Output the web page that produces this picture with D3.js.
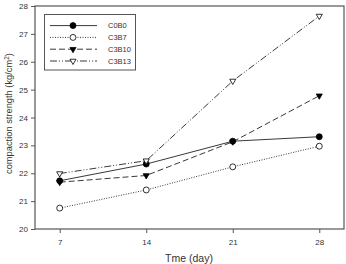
<!DOCTYPE html>
<html>
<head>
<meta charset="utf-8">
<script src="https://cdn.jsdelivr.net/npm/d3@7"></script>
<style>
  body { margin: 0; background: #fff; }
  text { font-family: Arial, 'Liberation Sans', sans-serif; fill: #333; }
</style>
</head>
<body>
<div id="chart"></div>
<script>
const days = [7, 14, 21, 28]
const seriesNames = ['C0B0', 'C3B7', 'C3B10', 'C3B13']
const c0b0 = [21.73, 22.33, 23.15, 23.31]
const c3b7 = [20.75, 21.40, 22.23, 22.97]
const c3b10 = [21.68, 21.92, 23.13, 24.78]
const c3b13 = [21.99, 22.45, 25.31, 27.64]
const yTicks = [20, 21, 22, 23, 24, 25, 26, 27, 28]

const width = 346
const height = 264
const margin = { top: 6, right: 2, bottom: 35, left: 35 }

const svg = d3.select('#chart')
  .append('svg')
  .attr('width', width)
  .attr('height', height)

const x = d3.scaleLinear().domain([5, 30]).range([margin.left, width - margin.right])
const y = d3.scaleLinear().domain([20, 28]).range([height - margin.bottom, margin.top])

const axisColor = '#555'

// frame
svg.append('rect')
  .attr('x', margin.left)
  .attr('y', margin.top)
  .attr('width', width - margin.left - margin.right)
  .attr('height', height - margin.top - margin.bottom)
  .attr('fill', 'none')
  .attr('stroke', axisColor)
  .attr('stroke-width', 1.2)

const yAxis = svg.append('g')
  .attr('transform', `translate(${margin.left},0)`)
  .call(d3.axisLeft(y).tickValues(yTicks).tickSize(4).tickPadding(3).tickFormat(d3.format('d')))
yAxis.select('.domain').remove()

const xAxis = svg.append('g')
  .attr('transform', `translate(0,${height - margin.bottom})`)
  .call(d3.axisBottom(x).tickValues(days).tickSize(4).tickPadding(6).tickFormat(d3.format('d')))
xAxis.select('.domain').remove()

svg.selectAll('.tick line').attr('stroke', axisColor)
svg.selectAll('.tick text').attr('font-size', 8).attr('fill', '#333')

svg.append('text')
  .attr('x', 189)
  .attr('y', 262)
  .attr('text-anchor', 'middle')
  .attr('font-size', 10.5)
  .text('Tme (day)')

svg.append('text')
  .attr('transform', 'translate(12,113.5) rotate(-90)')
  .attr('text-anchor', 'middle')
  .attr('font-size', 9.3)
  .html('compaction strength (kg/cm<tspan dy="-3.5" font-size="6.5">2</tspan><tspan dy="3.5">)</tspan>')

const styles = [
  { dash: null, symbol: d3.symbolCircle, fill: '#000', size: 28 },
  { dash: '1,1.5', symbol: d3.symbolCircle, fill: '#fff', size: 28 },
  { dash: '6,3', symbol: d3.symbolTriangle, fill: '#000', size: 16 },
  { dash: '7,2,1,2,1,2', symbol: d3.symbolTriangle, fill: '#fff', size: 16 }
]
const allSeries = [c0b0, c3b7, c3b10, c3b13]

const line = d3.line()
  .x((d, i) => x(days[i]))
  .y(d => y(d))

function drawMarker (g, s, cx, cy) {
  const rot = s.symbol === d3.symbolTriangle ? 180 : 0
  g.append('path')
    .attr('d', d3.symbol().type(s.symbol).size(s.size)())
    .attr('transform', `translate(${cx},${cy}) rotate(${rot})`)
    .attr('fill', s.fill)
    .attr('stroke', '#000')
    .attr('stroke-width', 0.8)
}

allSeries.forEach((vals, k) => {
  const s = styles[k]
  svg.append('path')
    .datum(vals)
    .attr('d', line)
    .attr('fill', 'none')
    .attr('stroke', '#222')
    .attr('stroke-width', 0.9)
    .attr('stroke-dasharray', s.dash)
  const g = svg.append('g')
  vals.forEach((v, i) => drawMarker(g, s, x(days[i]), y(v)))
})

// legend
const legend = svg.append('g')
legend.append('rect')
  .attr('x', 44.5)
  .attr('y', 14.5)
  .attr('width', 91)
  .attr('height', 55.5)
  .attr('fill', '#fff')
  .attr('stroke', axisColor)
  .attr('stroke-width', 1)

seriesNames.forEach((name, k) => {
  const s = styles[k]
  const ly = 25.6 + k * 11.8
  legend.append('line')
    .attr('x1', 50).attr('x2', 97)
    .attr('y1', ly).attr('y2', ly)
    .attr('stroke', '#222')
    .attr('stroke-width', 0.9)
    .attr('stroke-dasharray', s.dash)
  drawMarker(legend, s, 73, ly)
  legend.append('text')
    .attr('x', 108)
    .attr('y', ly + 2.8)
    .attr('font-size', 7.5)
    .text(name)
})
</script>
</body>
</html>
